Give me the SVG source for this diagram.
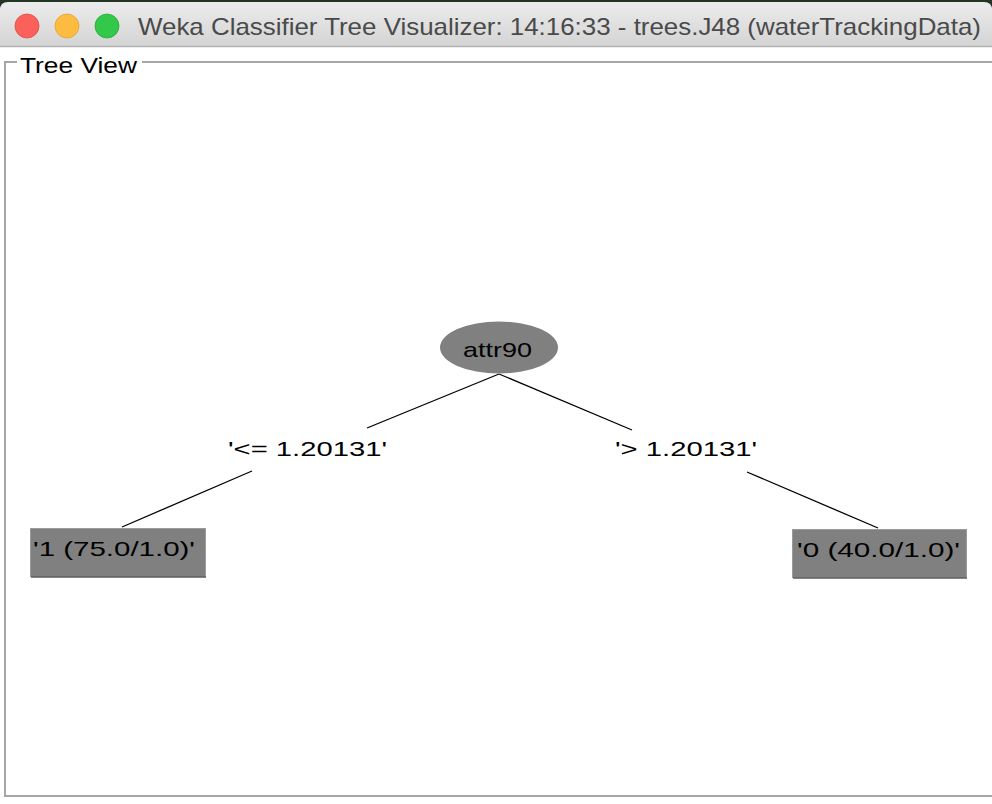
<svg xmlns="http://www.w3.org/2000/svg" width="992" height="804" viewBox="0 0 992 804">
<defs>
<linearGradient id="tb" x1="0" y1="0" x2="0" y2="1">
<stop offset="0" stop-color="#ececec"/>
<stop offset="1" stop-color="#d4d4d4"/>
</linearGradient>
</defs>
<style>
.t{font-family:"Liberation Sans",Arial,sans-serif;fill:#000;}
.node{fill:#808080;}
.edge{stroke:#000;stroke-width:1.3;fill:none;}
.frame{stroke:#a6a6a6;stroke-width:2;fill:none;}
</style>
<rect x="0" y="0" width="992" height="804" fill="#ffffff"/>
<rect x="0" y="0" width="992" height="8" fill="#243424"/>
<path d="M0,10 Q0,2 8,2 L984,2 Q992,2 992,10 L992,46 L0,46 Z" fill="url(#tb)"/>
<line x1="0" y1="46.5" x2="992" y2="46.5" stroke="#b2b2b2" stroke-width="1.5"/>
<circle cx="27" cy="26" r="12" fill="#fc605b" stroke="#de4a45" stroke-width="0.8"/>
<circle cx="67" cy="26" r="12" fill="#fdbc40" stroke="#dea235" stroke-width="0.8"/>
<circle cx="107" cy="26" r="12" fill="#34c84a" stroke="#27aa35" stroke-width="0.8"/>
<text x="138" y="35" font-family="'Liberation Sans',Arial,sans-serif" font-size="24" fill="#4a4a4a" textLength="843" lengthAdjust="spacingAndGlyphs">Weka Classifier Tree Visualizer: 14:16:33 - trees.J48 (waterTrackingData)</text>
<path class="frame" d="M17,62 L5,62 L5,796 L996,796 L996,62 L142,62"/>
<text class="t" x="20" y="73" font-size="22" fill="#222" textLength="117" lengthAdjust="spacingAndGlyphs">Tree View</text>
<g id="connectors">
<line class="edge" x1="499" y1="374" x2="367" y2="428"/>
<line class="edge" x1="252" y1="471" x2="122" y2="527"/>
<line class="edge" x1="499" y1="374" x2="632" y2="430"/>
<line class="edge" x1="747" y1="472" x2="878" y2="528"/>
<text class="t" x="228" y="456" font-size="21" textLength="159" lengthAdjust="spacingAndGlyphs">'&lt;= 1.20131'</text>
<text class="t" x="615" y="456" font-size="21" textLength="142" lengthAdjust="spacingAndGlyphs">'&gt; 1.20131'</text>
</g>
<g id="node-attr90">
<ellipse class="node" cx="499" cy="347.5" rx="59" ry="26"/>
<text class="t" x="463" y="357" font-size="21" textLength="69" lengthAdjust="spacingAndGlyphs">attr90</text>
</g>
<g id="leaf-1">
<rect class="node" x="30.5" y="528.5" width="175" height="48" stroke="#9a9a9a" stroke-width="1"/>
<line x1="31" y1="577" x2="206" y2="577" stroke="#5a5a5a" stroke-width="1.5"/>
<text class="t" x="33" y="556" font-size="21" textLength="162" lengthAdjust="spacingAndGlyphs">'1 (75.0/1.0)'</text>
</g>
<g id="leaf-0">
<rect class="node" x="792.5" y="529.5" width="174" height="48" stroke="#9a9a9a" stroke-width="1"/>
<line x1="793" y1="578" x2="967" y2="578" stroke="#5a5a5a" stroke-width="1.5"/>
<text class="t" x="797" y="557" font-size="21" textLength="163" lengthAdjust="spacingAndGlyphs">'0 (40.0/1.0)'</text>
</g>
</svg>
